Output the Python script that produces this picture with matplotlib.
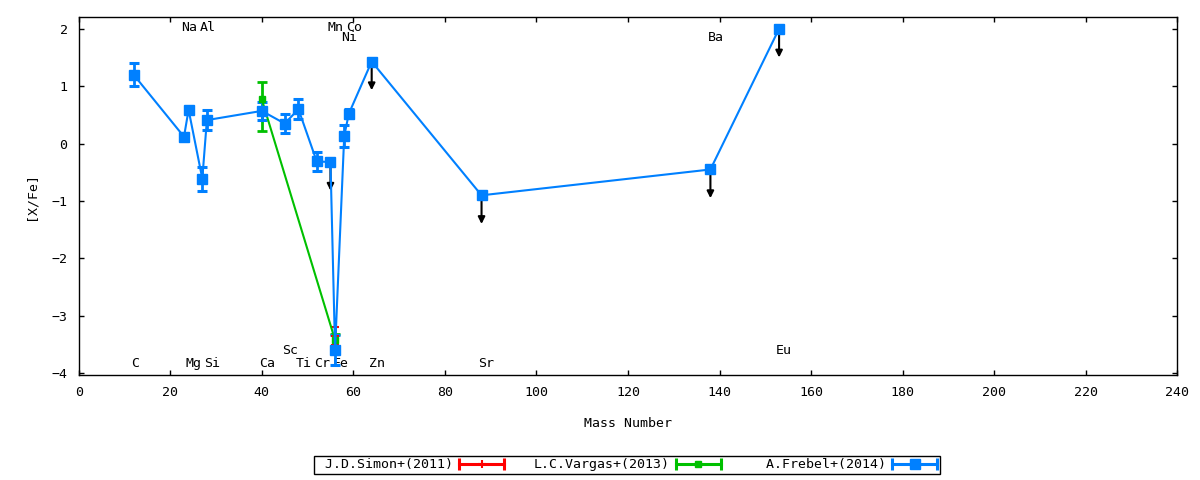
import matplotlib
matplotlib.use("Agg")
import matplotlib.pyplot as plt
from matplotlib.lines import Line2D
from matplotlib.legend_handler import HandlerBase

#%% Data
# A.Frebel+(2014)
frebel_mass = [12, 23, 24, 27, 28, 40, 45, 48, 52, 55, 56, 58, 59, 64, 88, 138, 153]
frebel_xfe = [1.20, 0.12, 0.59, -0.61, 0.41, 0.57, 0.35, 0.60, -0.31, -0.32,
              -3.59, 0.13, 0.52, 1.43, -0.90, -0.45, 2.00]
frebel_err = [0.20, 0.06, 0.03, 0.21, 0.17, 0.16, 0.17, 0.17, 0.17, 0.0,
              0.26, 0.19, 0.08, 0.0, 0.0, 0.0, 0.0]
frebel_limit = [False, False, False, False, False, False, False, False, False, True,
                False, False, False, True, True, True, True]

# L.C.Vargas+(2013)
vargas_mass = [40, 56]
vargas_xfe = [0.77, -3.42]
vargas_err_lo = [0.55, 0.10]
vargas_err_hi = [0.30, 0.10]

# J.D.Simon+(2011)
simon_mass = [56]
simon_xfe = [-3.35]
simon_err = [0.15]

# element labels
elem_names = ["C", "Na", "Mg", "Al", "Si", "Ca", "Sc", "Ti", "Cr", "Mn", "Fe",
              "Ni", "Co", "Zn", "Sr", "Ba", "Eu"]
elem_mass = [12, 23, 24, 27, 28, 40, 45, 48, 52, 55, 56, 58, 59, 64, 88, 138, 153]
elem_ypos = [-3.83, 2.03, -3.83, 2.03, -3.83, -3.83, -3.60, -3.83, -3.83, 2.03,
             -3.83, 1.84, 2.03, -3.83, -3.83, 1.84, -3.60]

limit_len = 0.5

#%% Style
plt.rcParams['font.family'] = ['DejaVu Sans Mono']
plt.rcParams['font.size'] = 9.5

red, green, blue = '#ff0000', '#00c000', '#0080ff'


class GnuErrHandler(HandlerBase):
    """gnuplot-like legend sample: bar with end caps and a point in the middle"""
    def create_artists(self, legend, orig_handle, xdescent, ydescent,
                       width, height, fontsize, trans):
        y = height / 2 - ydescent
        x0, x1 = -xdescent, width - xdescent
        col = orig_handle.get_color()
        bar = Line2D([x0, x1], [y, y], color=col, lw=2.2)
        caps = Line2D([x0, x1], [y, y], ls='none', marker='|', ms=8, mew=2.2, color=col)
        mid = Line2D([(x0 + x1) / 2], [y], ls='none', marker=orig_handle.get_marker(),
                     ms=orig_handle.get_markersize(), mew=orig_handle.get_markeredgewidth(),
                     color=col)
        for a in (bar, caps, mid):
            a.set_transform(trans)
        return [bar, caps, mid]


fig = plt.figure(figsize=(12, 4.8), dpi=100)
ax = fig.add_axes([0.0656, 0.2181, 0.9155, 0.7458])

#%% Plot
c_simon = ax.errorbar(simon_mass, simon_xfe, yerr=simon_err, fmt='-', marker='+',
                      ms=6, mew=1.5, color=red, lw=1.5, elinewidth=2.0,
                      capsize=3.2, capthick=2.0, label="J.D.Simon+(2011)".rjust(17))
c_vargas = ax.errorbar(vargas_mass, vargas_xfe, yerr=[vargas_err_lo, vargas_err_hi],
                       fmt='-', marker='s', ms=5, color=green, lw=1.5, elinewidth=2.0,
                       capsize=3.8, capthick=2.0, label="L.C.Vargas+(2013)".rjust(17))
c_frebel = ax.errorbar(frebel_mass, frebel_xfe, yerr=frebel_err, fmt='-', marker='s',
                       ms=7, color=blue, lw=1.5, elinewidth=2.0,
                       capsize=3.5, capthick=2.2, label="A.Frebel+(2014)".rjust(17))

# upper limits
for m, v, lim in zip(frebel_mass, frebel_xfe, frebel_limit):
    if lim:
        ax.annotate('', xy=(m, v - limit_len), xytext=(m, v),
                    arrowprops=dict(arrowstyle='-|>', color='black', lw=1.5,
                                    mutation_scale=10, shrinkA=0, shrinkB=0),
                    zorder=1.5)

# element names
for name, m, yy in zip(elem_names, elem_mass, elem_ypos):
    ax.annotate(name, (m, yy), xytext=(-3, 0), textcoords='offset pixels',
                ha='left', va='center', zorder=1)

ax.set_xlim(0, 240)
ax.set_ylim(-4.035, 2.2)
ax.set_xticks(range(0, 241, 20))
ax.set_yticks(range(-4, 3))
ax.tick_params(direction='in', top=True, right=True, length=3.6, width=1, pad=8)
for s in ax.spines.values():
    s.set_linewidth(1.0)

ax.set_xlabel("Mass Number", labelpad=13)
ax.set_ylabel("[X/Fe]", labelpad=10)

handles = [c_simon[0], c_vargas[0], c_frebel[0]]
leg = fig.legend(handles=handles, labels=[h.get_label() for h in (c_simon, c_vargas, c_frebel)],
                 handler_map={Line2D: GnuErrHandler()}, loc='center',
                 bbox_to_anchor=(0.5225, 0.032), ncol=3, markerfirst=False,
                 fancybox=False, edgecolor='black', framealpha=1, borderpad=0.2,
                 handlelength=3.4, handletextpad=0.5, columnspacing=2.2)
leg.get_frame().set_linewidth(1.0)

fig.savefig("out.png", dpi=100)
